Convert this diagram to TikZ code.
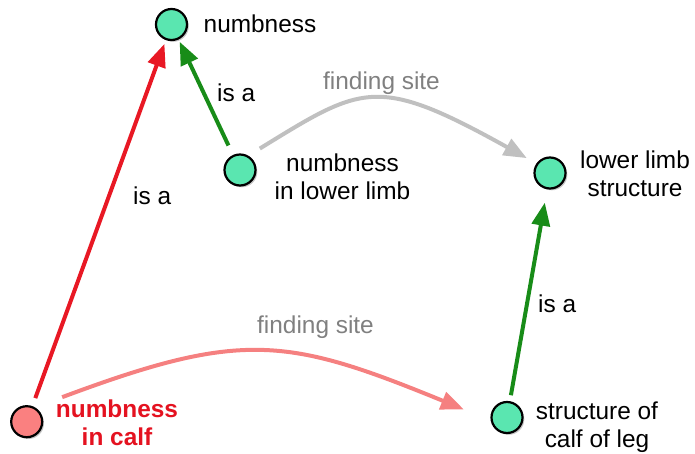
\documentclass[tikz,border=0pt]{standalone}
\usepackage{fontspec}
\setmainfont{Liberation Sans}
\usetikzlibrary{arrows.meta,shadows}
\definecolor{mint}{RGB}{90,230,176}
\definecolor{salmon}{RGB}{250,128,128}
\definecolor{isared}{RGB}{232,24,36}
\definecolor{isagreen}{RGB}{24,140,24}
\definecolor{sitegray}{RGB}{192,192,192}
\definecolor{sitepink}{RGB}{245,128,128}
\definecolor{labgray}{RGB}{128,128,128}
\definecolor{txtred}{RGB}{228,18,32}
\begin{document}
\begin{tikzpicture}[x=1pt,y=-1pt,
  concept/.style={circle,draw=black,line width=2.2pt,minimum size=31pt,inner sep=0pt,fill=mint,
    drop shadow={shadow xshift=1.8pt,shadow yshift=-1.8pt,opacity=0.45}},
  focus/.style={concept,fill=salmon},
  txt/.style={font=\fontsize{24.4}{28}\selectfont,inner sep=0pt,align=center,anchor=base},
  lab/.style={font=\fontsize{24.4}{28}\selectfont,inner sep=0pt,anchor=base west},
  sitelab/.style={lab,text=labgray},
  isa/.style={line width=4pt,-{Triangle[length=23pt,width=18pt]}},
  site/.style={line width=4pt,-{Triangle[length=23pt,width=18pt]}}]
\useasboundingbox (0,0) rectangle (695,454);
% concepts
\node[concept] (num) at (171.5,24.5) {};
\node[concept] (nlimb) at (240,170) {};
\node[concept] (lls) at (550,173) {};
\node[concept] (scl) at (507,417.5) {};
\node[focus] (calf) at (26.7,421.7) {};
% concept texts
\node[lab] (tnum) at (203.5,33) {numbness};
\node[txt] (tnlimb) at (342.5,200) {numbness\\in lower limb};
\node[txt] (tlls) at (635,196.5) {lower limb\\structure};
\node[txt] (tscl) at (597,447) {structure of\\calf of leg};
\node[txt,font=\fontsize{24.4}{28}\selectfont\bfseries,text=txtred] (tcalf) at (117,445) {numbness\\in calf};
% connectors
\draw[isa,isared,shorten <=8.5pt,shorten >=4pt] (calf) -- (num);
\draw[isa,isagreen,shorten <=10.5pt,shorten >=2.5pt] (nlimb) -- (num);
\draw[isa,isagreen,shorten <=6pt,shorten >=13.5pt] (scl) -- (lls);
\draw[site,sitegray,shorten <=13.5pt,shorten >=11pt] (nlimb.60) .. controls (362.8,85.3) and (376.4,74.4) .. (lls.145);
\draw[site,sitepink,shorten <=29pt,shorten >=29pt] (calf.60) .. controls (242,330) and (287,337) .. (scl.190);
% connector labels
\node[lab] (l1) at (133,205) {is a};
\node[lab] (l2) at (217,102) {is a};
\node[lab] (l3) at (538,312) {is a};
\node[sitelab] (l4) at (323,90) {finding site};
\node[sitelab] (l5) at (257,333) {finding site};
\end{tikzpicture}
\end{document}
